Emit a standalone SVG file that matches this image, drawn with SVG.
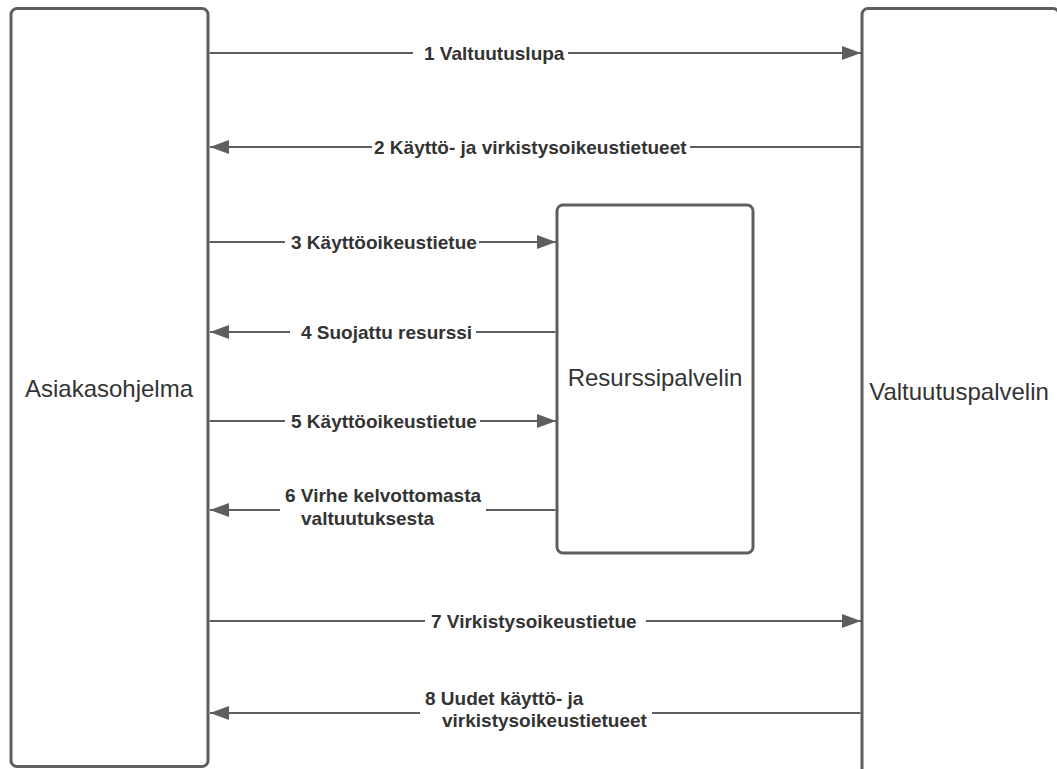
<svg xmlns="http://www.w3.org/2000/svg" width="1057" height="769" viewBox="0 0 1057 769">
<defs>
<style>
.box{fill:#fff;stroke:#5e5e5e;stroke-width:3}
.ln{fill:none;stroke:#5e5e5e;stroke-width:2}
.lbl{font-family:"Liberation Sans",Arial,sans-serif;font-weight:bold;font-size:19px;fill:#333}
.nt{font-family:"Liberation Sans",Arial,sans-serif;font-size:24px;fill:#333;text-anchor:middle}
</style>
<marker id="ah" markerUnits="userSpaceOnUse" markerWidth="20" markerHeight="14" refX="19" refY="7" orient="auto">
<path d="M0,0 L19,7 L0,14 Z" fill="#5e5e5e"/>
</marker>
</defs>
<rect width="1057" height="769" fill="#fff"/>
<g id="asiakasohjelma">
<rect class="box" x="11" y="8.5" width="197" height="758" rx="6"/>
<text class="nt" x="109" y="397">Asiakasohjelma</text>
</g>
<g id="valtuutuspalvelin">
<rect class="box" x="862" y="8.5" width="197" height="780" rx="6"/>
<text class="nt" x="959" y="400">Valtuutuspalvelin</text>
</g>
<g id="resurssipalvelin">
<rect class="box" x="557" y="205" width="196" height="348" rx="6"/>
<text class="nt" x="655" y="386">Resurssipalvelin</text>
</g>
<g id="connectors">
<path class="ln" d="M209.5,53 H413 M568,53 H861" marker-end="url(#ah)"/>
<path class="ln" d="M860.5,147 H690 M372,147 H210" marker-end="url(#ah)"/>
<path class="ln" d="M209.5,242 H285 M479,242 H556" marker-end="url(#ah)"/>
<path class="ln" d="M555.5,332 H476 M290,332 H210" marker-end="url(#ah)"/>
<path class="ln" d="M209.5,421 H285 M480,421 H556" marker-end="url(#ah)"/>
<path class="ln" d="M555.5,510 H486 M280,510 H210" marker-end="url(#ah)"/>
<path class="ln" d="M209.5,621 H425 M646,621 H861" marker-end="url(#ah)"/>
<path class="ln" d="M860.5,713 H652 M420,713 H210" marker-end="url(#ah)"/>
</g>
<g id="labels">
<text class="lbl" x="424" y="59.5">1 Valtuutuslupa</text>
<text class="lbl" x="374" y="153.5">2 Käyttö- ja virkistysoikeustietueet</text>
<text class="lbl" x="291" y="248.5">3 Käyttöoikeustietue</text>
<text class="lbl" x="301" y="338.5">4 Suojattu resurssi</text>
<text class="lbl" x="291" y="427.5">5 Käyttöoikeustietue</text>
<text class="lbl" x="285" y="502">6 Virhe kelvottomasta</text>
<text class="lbl" x="301" y="525">valtuutuksesta</text>
<text class="lbl" x="431" y="627.5">7 Virkistysoikeustietue</text>
<text class="lbl" x="425" y="705">8 Uudet käyttö- ja</text>
<text class="lbl" x="442" y="727">virkistysoikeustietueet</text>
</g>
</svg>
